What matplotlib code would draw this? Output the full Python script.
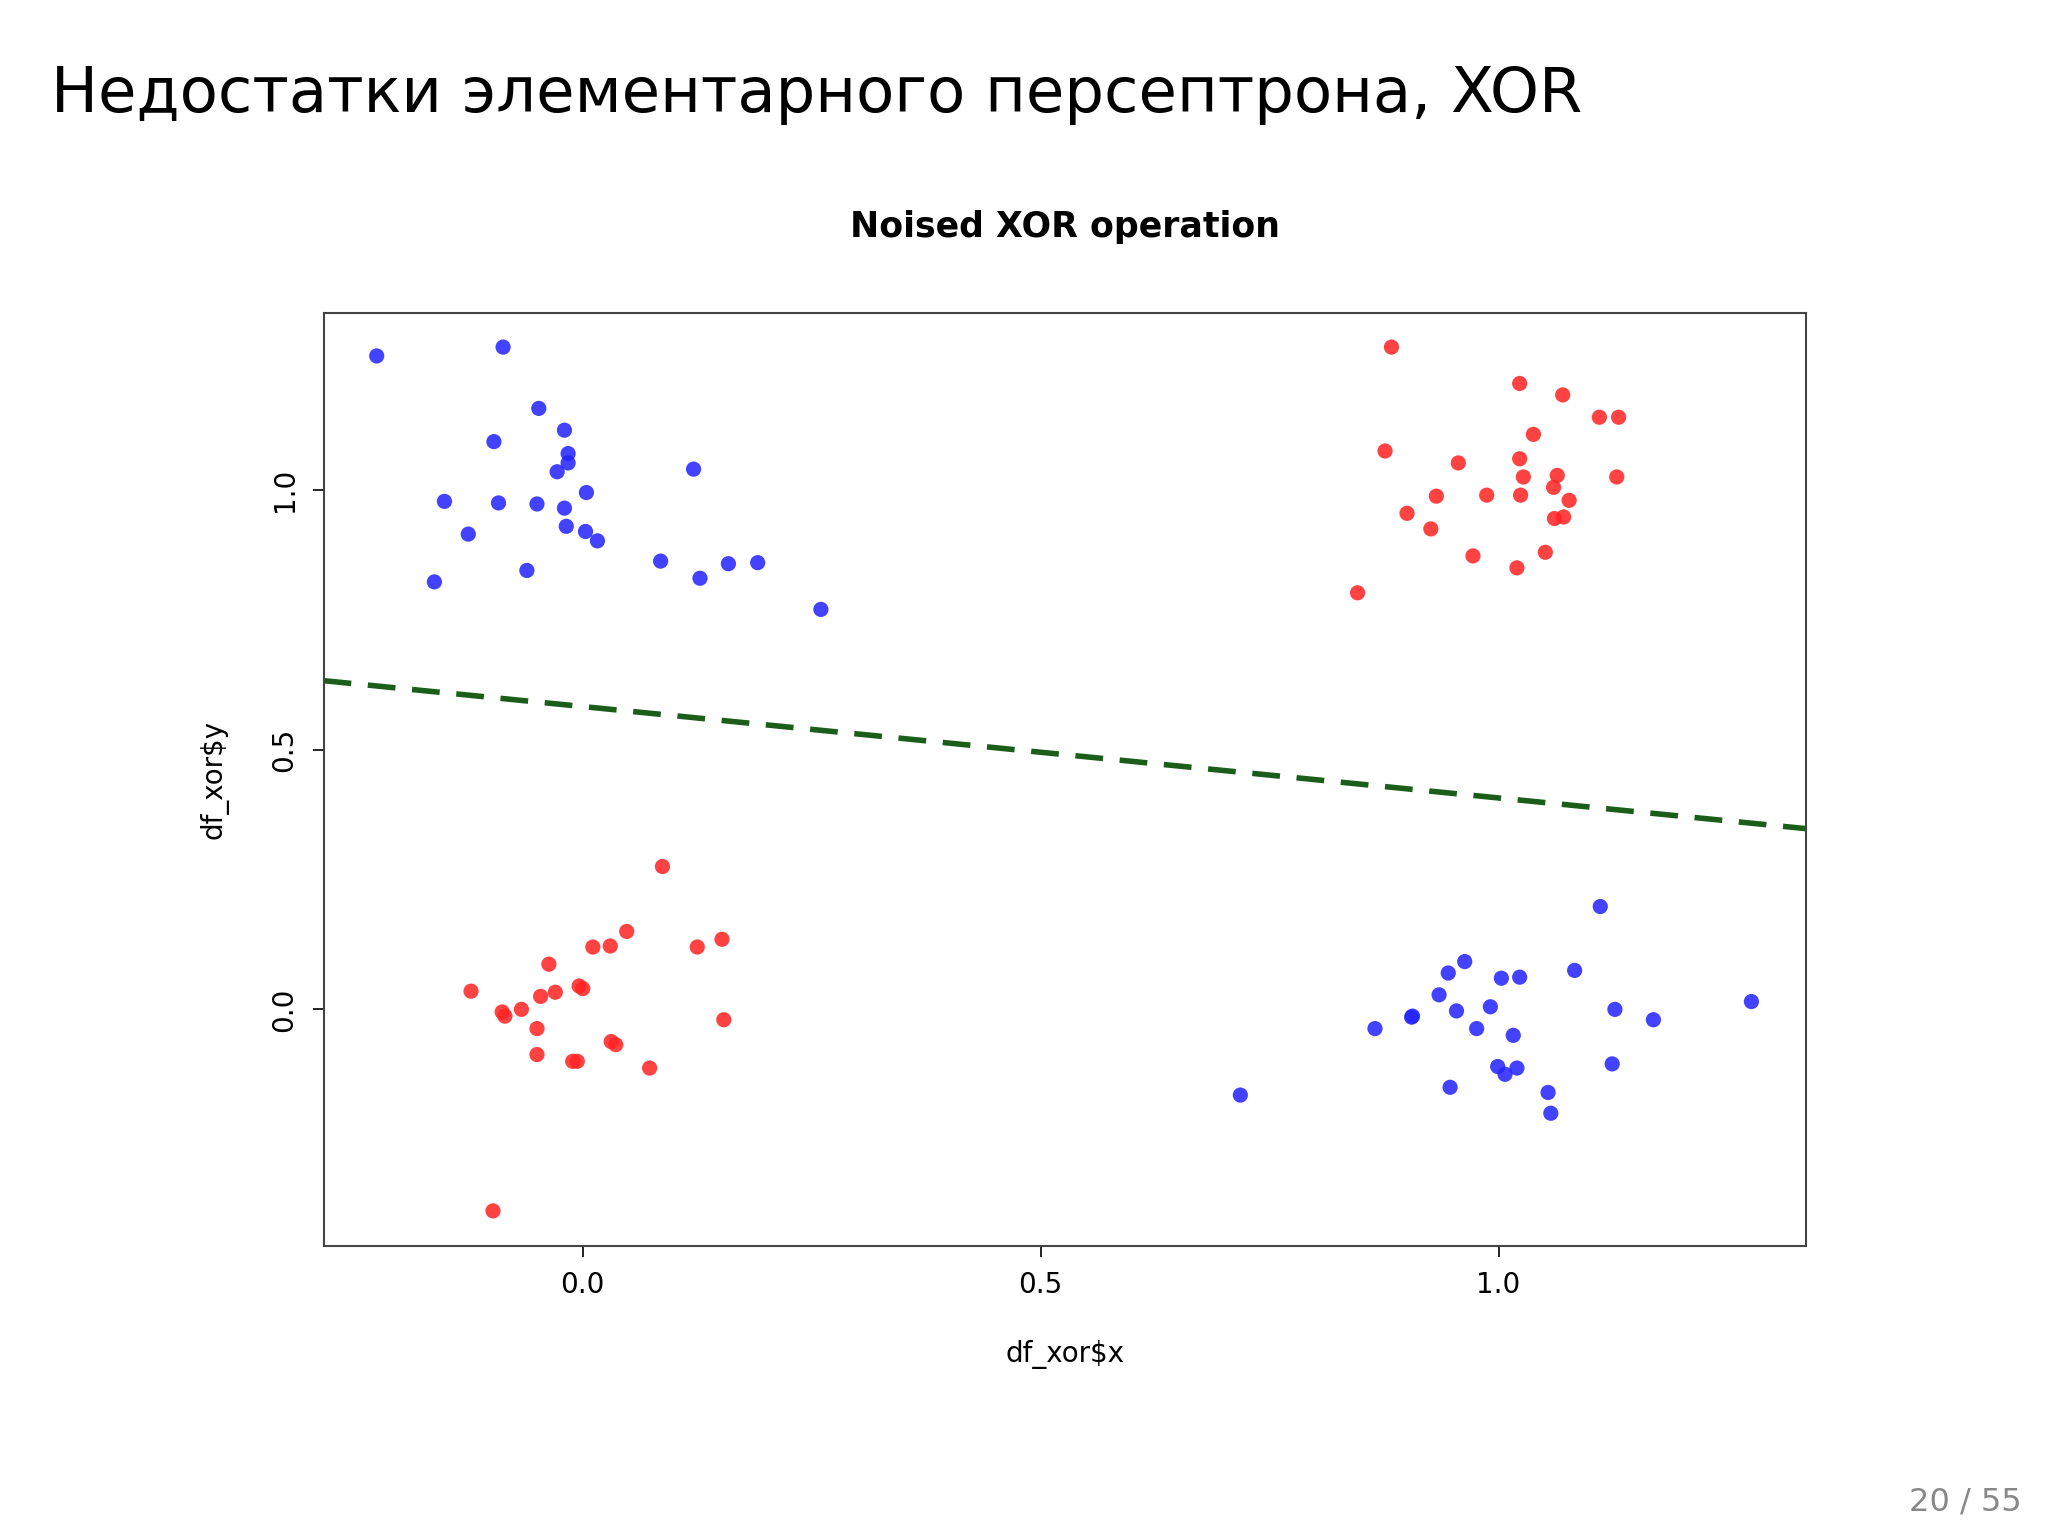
import matplotlib
matplotlib.use("Agg")
import matplotlib.pyplot as plt
import numpy as np

def cx(p): return (np.array(p)-444)/703.0
def cy(p): return (771-np.array(p))/400.0

blue_px = [(286,268),(383,261),(410,308),(376,334),(430,325),(433,343),(433,350),(424,357),(338,380),(379,381),(409,382),(430,385),(447,373),(356,405),(431,399),(446,403),(455,410),(401,433),(330,442),(529,355),(504,426),(534,439),(556,428),(578,427),(627,463),
 (1225,692),(1121,734),(1108,743),(1205,741),(1149,747),(1163,746),(1101,760),(1141,769),(1115,772),(1081,776),(1080,777),(1236,771),(1266,779),(1341,765),(1052,786),(1130,786),(1158,791),(1146,815),(1161,816),(1152,821),(1234,813),(1110,831),(1185,835),(949,837),(1187,851)]
red_px = [(1065,261),(1163,289),(1196,298),(1174,328),(1224,315),(1239,315),(1060,341),(1116,350),(1163,347),(1166,361),(1192,360),(1238,361),(1099,376),(1138,375),(1164,375),(1189,369),(1201,379),(1077,389),(1095,401),(1190,393),(1197,392),(1127,422),(1161,431),(1183,419),(1039,450),
 (505,661),(478,711),(452,723),(465,722),(532,723),(551,717),(418,736),(358,757),(423,758),(412,761),(441,753),(444,755),(397,771),(382,773),(384,776),(409,786),(552,779),(466,796),(469,798),(409,806),(436,811),(440,811),(495,816),(375,926)]
blue_x = [round(float(cx(p[0])),3) for p in blue_px]
blue_y = [round(float(cy(p[1])),3) for p in blue_px]
red_x = [round(float(cx(p[0])),3) for p in red_px]
red_y = [round(float(cy(p[1])),3) for p in red_px]
intercept = 0.583
slope = -0.176

fig = plt.figure(figsize=(20.48,15.36), dpi=100)
fig.text(0.025, 0.938, "Недостатки элементарного персептрона, XOR", fontsize=45, va="center", ha="left")
fig.text(0.987, 0.012, "20 / 55", fontsize=23, color="#888888", ha="right", va="bottom")
ax = fig.add_axes([0.158, 0.189, 0.724, 0.607])
ax.scatter(blue_x, blue_y, s=120, color="#2222ff", alpha=0.85, edgecolors="none")
ax.scatter(red_x, red_y, s=120, color="#ff2222", alpha=0.85, edgecolors="none")
ax.set_xlim(-0.283, 1.336)
ax.set_ylim(-0.455, 1.34)
xs = np.array(ax.get_xlim())
ax.plot(xs, intercept+slope*xs, color="#1a5e1a", lw=4, ls=(0,(5,3)))
ax.set_xticks([0,0.5,1.0]); ax.set_xticklabels(["0.0","0.5","1.0"])
ax.set_yticks([0,0.5,1.0]); ax.set_yticklabels(["0.0","0.5","1.0"], rotation=90, va="center")
ax.tick_params(labelsize=20, length=8, width=1.2, pad=10)
for s in ax.spines.values(): s.set_linewidth(1.5); s.set_color("#444444")
ax.set_xlabel("df_xor$x", fontsize=20, labelpad=30)
ax.set_ylabel("df_xor$y", fontsize=20, labelpad=30)
ax.set_title("Noised XOR operation", fontsize=25, fontweight="bold", pad=55)
fig.savefig("out.png", dpi=100)
